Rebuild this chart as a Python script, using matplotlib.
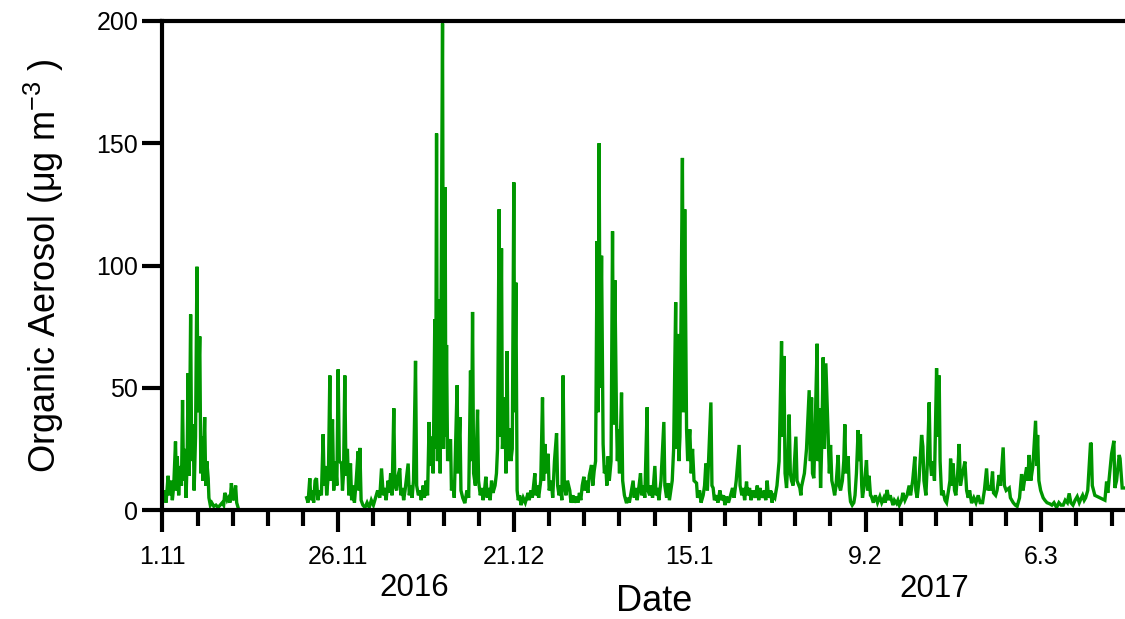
import pandas as pd
import numpy as np
import matplotlib
matplotlib.use('Agg')
import matplotlib.pyplot as plt
from matplotlib.ticker import FixedLocator

plt.rcParams['font.family'] = ['Liberation Sans', 'DejaVu Sans']
plt.rcParams['mathtext.default'] = 'regular'

# days since 1.11.2016, organic aerosol (ug m-3)
start = pd.Timestamp('2016-11-01')

nov_early = [(0.0, 4), (0.3, 8), (0.5, 3), (0.8, 14), (1.0, 6), (1.2, 12), (1.4, 4), (1.6, 10),
             (1.85, 28), (2.0, 8), (2.1, 22), (2.3, 6), (2.5, 18), (2.7, 10), (2.85, 45), (3.0, 12),
             (3.2, 25), (3.35, 5), (3.5, 20), (3.65, 56), (3.8, 14), (4.0, 80), (4.15, 20), (4.35, 35),
             (4.5, 8), (4.7, 30), (4.9, 99.5), (5.05, 40), (5.3, 71), (5.45, 15), (5.6, 30), (5.75, 12),
             (6.0, 38), (6.15, 10), (6.3, 20), (6.5, 13), (6.6, 5), (6.8, 2), (7.0, 3), (7.3, 1.5),
             (7.6, 2), (7.9, 1), (8.2, 2), (8.5, 3), (8.7, 2), (8.86, 7), (9.0, 6), (9.2, 4), (9.4, 5),
             (9.6, 3), (9.8, 11), (10.0, 4), (10.2, 5), (10.4, 10), (10.55, 3), (10.75, 1)]

nov_late = [(20.5, 5), (20.7, 3), (20.95, 13), (21.1, 4), (21.3, 8), (21.5, 3), (21.7, 12), (21.9, 13),
            (22.1, 4), (22.3, 8), (22.6, 6), (22.85, 31), (23.0, 10), (23.2, 18), (23.35, 6), (23.6, 15),
            (23.8, 55), (23.95, 12), (24.18, 37), (24.35, 8), (24.6, 20), (24.8, 10), (24.98, 57.5),
            (25.15, 20), (25.46, 19), (25.6, 8), (25.75, 15), (25.93, 55), (26.1, 14), (26.3, 25),
            (26.5, 6), (26.74, 19), (26.9, 4), (27.1, 10), (27.3, 3), (27.55, 12), (27.82, 24),
            (27.95, 8), (28.07, 25.4), (28.25, 4), (28.5, 2), (28.8, 1), (29.1, 3), (29.4, 1), (29.7, 4)]

dec = [(30.0, 2), (30.3, 5), (30.6, 8), (30.9, 5), (31.15, 17), (31.4, 6), (31.6, 9), (31.8, 4),
       (32.09, 12), (32.25, 7), (32.45, 15), (32.65, 6), (32.9, 41.6), (33.05, 10), (33.3, 8),
       (33.5, 14), (33.75, 17), (33.9, 6), (34.1, 9), (34.3, 4), (34.5, 8), (34.94, 19), (35.1, 6),
       (35.3, 10), (35.5, 5), (35.7, 12), (35.99, 61), (36.15, 10), (36.4, 6), (36.6, 8), (36.8, 4),
       (37.07, 10), (37.25, 5), (37.5, 12), (37.7, 6), (37.92, 36), (38.05, 18), (38.25, 30),
       (38.5, 15), (38.73, 78), (38.85, 25), (38.98, 154), (39.1, 20), (39.35, 86), (39.5, 15),
       (39.83, 199), (39.97, 25), (40.2, 132), (40.3, 30), (40.4, 67.5), (40.55, 20), (40.97, 29),
       (41.1, 8), (41.3, 12), (41.5, 5), (41.9, 51), (42.05, 15), (42.3, 38), (42.45, 8), (42.7, 5),
       (43.0, 2.8), (43.3, 8), (43.55, 5), (43.81, 57), (43.95, 20), (44.1, 81), (44.25, 15),
       (44.5, 10), (44.81, 41), (44.95, 12), (45.2, 6), (45.4, 9), (45.6, 4), (45.8, 8),
       (45.99, 13.6), (46.2, 5), (46.4, 9), (46.6, 4), (46.8, 12), (47.0, 7), (47.3, 10), (47.5, 15),
       (47.65, 25), (47.88, 123), (48.05, 30), (48.22, 107), (48.35, 25), (48.69, 46), (48.85, 15),
       (49.02, 65), (49.15, 20), (49.4, 33.5), (49.55, 20), (49.75, 25), (49.97, 134), (50.1, 40),
       (50.26, 93), (50.44, 8), (50.6, 4), (50.8, 6), (51.0, 2), (51.3, 5), (51.6, 3), (52.0, 7),
       (52.15, 4), (52.4, 8), (52.6, 5), (52.96, 15), (53.1, 6), (53.3, 10), (53.5, 5), (53.8, 12),
       (54.05, 46), (54.2, 12), (54.38, 27), (54.6, 15), (54.85, 23), (55.0, 8), (55.3, 12),
       (55.5, 5), (55.75, 20), (56.05, 31.4), (56.2, 10), (56.4, 6), (56.6, 10), (56.8, 4),
       (56.98, 55), (57.15, 10), (57.4, 6), (57.6, 12), (57.93, 8), (58.1, 3), (58.4, 6), (58.6, 3),
       (58.89, 5.5), (59.1, 3), (59.3, 7), (59.5, 4), (59.7, 10), (59.93, 13.6)]

jan = [(60.1, 8), (60.3, 12), (60.5, 7), (60.7, 14), (61.02, 18.4), (61.2, 10), (61.4, 16),
       (61.6, 20), (61.82, 110), (61.95, 40), (62.1, 150), (62.25, 50), (62.45, 104), (62.67, 27),
       (62.85, 15), (63.05, 18), (63.2, 10), (63.39, 22), (63.55, 12), (63.8, 20), (64.01, 114),
       (64.15, 35), (64.34, 94), (64.58, 36.5), (64.7, 20), (64.81, 33), (65.0, 15), (65.29, 48),
       (65.45, 12), (65.7, 6), (66.0, 2.8), (66.2, 5), (66.4, 3), (66.7, 8), (66.94, 12), (67.1, 5),
       (67.3, 9), (67.5, 4), (67.7, 8), (67.99, 15), (68.15, 6), (68.4, 10), (68.6, 5), (68.93, 42),
       (69.05, 8), (69.3, 6), (69.5, 10), (69.7, 5), (70.03, 18), (70.2, 6), (70.4, 9), (70.6, 4),
       (70.9, 12), (71.31, 36), (71.45, 10), (71.7, 5), (71.93, 11), (72.1, 4), (72.3, 8), (72.5, 12),
       (72.7, 25), (72.99, 85), (73.15, 25), (73.32, 72), (73.45, 20), (73.6, 30), (73.95, 144),
       (74.1, 40), (74.28, 123), (74.54, 33), (74.7, 20), (75.0, 33), (75.2, 15), (75.39, 25),
       (75.6, 12), (75.96, 11), (76.1, 5), (76.4, 8), (76.6, 3), (76.9, 6), (77.1, 10), (77.28, 19),
       (77.5, 8), (78.0, 44), (78.15, 10), (78.32, 9), (78.5, 4), (78.8, 6), (79.0, 3), (79.28, 8),
       (79.5, 4), (79.8, 6), (80.0, 2), (80.23, 5.5), (80.5, 3), (80.8, 6), (81.08, 9), (81.3, 5),
       (81.6, 12), (82.02, 26.6), (82.15, 10), (82.4, 6), (82.6, 9), (82.8, 4), (83.07, 11.6),
       (83.2, 6), (83.5, 9), (83.7, 4), (84.01, 8), (84.3, 5), (84.6, 10), (84.8, 4), (84.96, 9),
       (85.3, 5), (85.6, 8), (85.8, 4), (86.0, 12), (86.2, 5), (86.5, 8), (86.7, 3), (86.85, 6),
       (87.1, 5), (87.4, 10), (87.7, 20), (88.05, 69), (88.2, 30), (88.38, 63), (88.55, 15),
       (88.76, 9), (88.95, 20), (89.13, 39), (89.3, 15), (89.47, 12), (89.7, 10), (89.9, 20),
       (90.09, 30), (90.25, 12), (90.65, 9), (90.8, 6)]

feb = [(90.89, 9.5), (91.3, 15), (91.6, 25), (91.98, 49), (92.15, 20), (92.32, 46), (92.45, 15),
       (92.64, 13), (92.8, 30), (93.11, 68), (93.25, 20), (93.4, 41.6), (93.6, 9), (93.75, 25),
       (93.97, 62.4), (94.15, 25), (94.35, 60), (94.68, 31), (94.85, 15), (95.02, 26.6), (95.2, 12),
       (95.39, 9.5), (95.6, 6), (95.8, 10), (96.1, 22.5), (96.25, 10), (96.44, 8), (96.7, 12),
       (96.9, 20), (97.05, 35), (97.2, 15), (97.52, 22), (97.7, 8), (97.86, 3.4), (98.1, 2),
       (98.33, 3), (98.5, 6), (98.7, 15), (98.94, 32.7), (99.1, 20), (99.27, 31), (99.45, 10),
       (99.56, 5), (99.8, 10), (100.13, 20.4), (100.3, 8), (100.5, 14), (100.7, 6), (100.84, 5.5),
       (101.1, 3), (101.4, 6), (101.7, 3), (102.03, 5.5), (102.3, 3), (102.6, 5), (102.8, 3),
       (103.07, 8.2), (103.3, 4), (103.5, 6), (103.7, 4), (103.9, 2), (104.1, 4), (104.41, 2.7),
       (104.6, 4), (104.8, 2), (105.12, 4), (105.3, 7), (105.6, 4), (105.9, 6), (106.2, 10),
       (106.4, 6), (106.7, 12), (107.01, 21.8), (107.15, 8), (107.34, 5), (107.6, 12), (107.97, 30.7),
       (108.15, 26), (108.3, 12), (108.58, 6), (108.8, 20), (109.05, 44), (109.2, 20), (109.39, 14),
       (109.6, 20), (109.8, 12), (110.1, 58), (110.25, 30), (110.47, 55), (110.6, 20), (110.81, 6),
       (111.0, 8), (111.3, 4), (111.52, 3), (111.8, 8), (112.0, 12), (112.09, 21), (112.3, 10),
       (112.46, 19), (112.65, 8), (112.84, 6), (113.1, 15), (113.31, 27), (113.5, 10), (113.8, 15),
       (114.13, 19.8), (114.37, 8), (114.6, 5), (114.8, 8), (115.08, 2.8), (115.4, 5), (115.7, 3),
       (116.02, 6), (116.3, 3), (116.64, 3), (116.9, 8), (117.21, 17), (117.4, 8), (117.6, 10),
       (117.8, 8), (118.06, 15.7), (118.2, 7), (118.5, 6), (118.7, 8), (119.0, 14.3), (119.2, 10)]

mar = [(119.57, 25.6), (119.75, 10), (120.0, 8), (120.43, 9), (120.6, 5), (121.0, 3), (121.3, 2),
       (121.56, 1.5), (121.9, 5), (122.19, 14.7), (122.4, 8), (122.6, 12), (122.9, 17.4),
       (123.05, 12), (123.27, 22.5), (123.5, 12), (123.8, 18), (124.18, 36.5), (124.35, 18),
       (124.47, 30.7), (124.65, 12), (124.9, 8), (125.26, 5), (125.5, 4), (125.8, 3), (126.22, 2.5),
       (126.5, 2), (126.8, 3), (127.17, 1), (127.5, 3), (127.8, 2), (128.11, 2), (128.4, 4),
       (128.7, 3), (128.96, 6.8), (129.2, 3), (129.5, 2), (129.8, 4), (130.1, 5.5), (130.4, 3),
       (130.7, 5), (130.87, 6), (131.1, 4), (131.3, 5), (131.6, 8), (132.0, 27.5), (132.1, 27),
       (132.25, 10), (132.61, 6), (134.04, 4), (134.28, 11.6), (134.45, 7), (134.99, 23),
       (135.32, 28.3), (135.45, 9), (135.7, 12), (136.07, 22.5), (136.2, 21), (136.5, 9), (136.9, 9)]

tick_days = [0, 25, 50, 75, 100, 125]
tick_labels = ['1.11', '26.11', '21.12', '15.1', '9.2', '6.3']
years = ['2016', '2017']

# join the pieces, NaN for the instrument gap in November
pts = nov_early + [(15.0, np.nan)] + nov_late + dec + jan + feb + mar
df = pd.DataFrame(pts, columns=['day', 'oa'])
df['time'] = start + pd.to_timedelta(df['day'], unit='D')

fig = plt.figure(figsize=(11.25, 6.19), dpi=100)
ax = fig.add_axes([162.5 / 1125, 109 / 619, 962.5 / 1125, 489 / 619])

ax.plot(df['time'], df['oa'], color='#009600', lw=2.4, solid_joinstyle='miter')

ax.set_xlim(start, start + pd.Timedelta(days=136.9))
ax.set_ylim(0, 200)

major = [start + pd.Timedelta(days=d) for d in tick_days]
minor = [start + pd.Timedelta(days=d) for d in range(0, 137, 5)]
ax.xaxis.set_major_locator(FixedLocator(matplotlib.dates.date2num(major)))
ax.xaxis.set_minor_locator(FixedLocator(matplotlib.dates.date2num(minor)))
ax.set_xticklabels(tick_labels)
ax.set_yticks([0, 50, 100, 150, 200])

for s in ['left', 'top', 'bottom']:
    ax.spines[s].set_linewidth(3.0)
ax.spines['right'].set_visible(False)

ax.tick_params(axis='both', which='major', direction='out', width=3.0, labelsize=18, color='black')
ax.tick_params(axis='x', which='major', length=15.5, pad=10)
ax.tick_params(axis='x', which='minor', length=11.5, width=3.0)
ax.tick_params(axis='y', which='major', length=14.5, pad=3)

ax.set_ylabel('Organic Aerosol (\u03bcg m$^{-3}$ )', fontsize=26)
ax.yaxis.set_label_coords(-0.10, 0.5)

fig.text(414.5 / 1125, 1 - 596 / 619, years[0], fontsize=22.5, ha='center', va='baseline')
fig.text(934 / 1125, 1 - 597 / 619, years[1], fontsize=22.5, ha='center', va='baseline')
fig.text(654.5 / 1125, 1 - 611 / 619, 'Date', fontsize=26, ha='center', va='baseline')

fig.savefig('out.png', dpi=100)
